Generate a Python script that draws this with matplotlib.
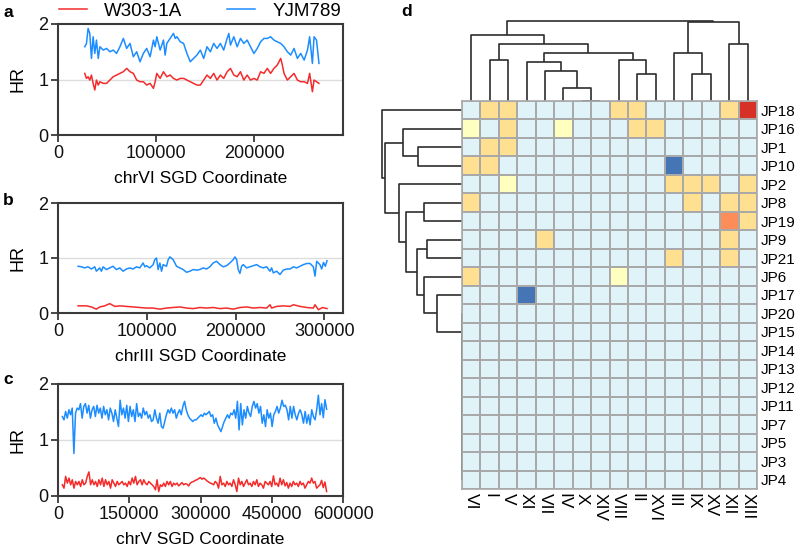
import numpy as np
import matplotlib
matplotlib.use('Agg')
import matplotlib.pyplot as plt
from matplotlib.colors import ListedColormap, BoundaryNorm

plt.rcParams['font.family'] = ['Liberation Sans', 'DejaVu Sans']

# ---------------- data: HR profiles ----------------
series_names = ['W303-1A', 'YJM789']

# panel a : chrVI (positions in kb)
chrVI_blue_kb = [27.3, 29.0, 30.7, 32.4, 34.1, 35.8, 37.5, 39.2, 41.0, 42.7,
                 46.1, 49.5, 52.9, 56.3, 59.7, 63.1, 66.6, 68.3, 70.0,
                 73.4, 76.8, 80.2, 83.6, 87.0, 90.4, 93.9, 97.3, 99.0, 100.7,
                 104.1, 107.5, 109.2, 110.9, 114.3, 117.7, 119.5, 121.2, 124.6, 128.0,
                 131.4, 134.8, 138.2, 141.6, 145.1, 148.5, 151.9, 155.3, 158.7, 162.1,
                 165.5, 168.9, 172.4, 174.1, 175.8, 179.2, 182.6, 186.0, 189.4, 192.8,
                 196.2, 199.7, 203.1, 206.5, 209.9, 213.3, 216.7, 220.1, 223.5, 227.0,
                 230.4, 233.8, 237.2, 240.6, 244.0, 247.4, 250.9, 254.3, 256.5, 259.3,
                 261.0, 263.5, 266.0]
chrVI_blue = [1.59, 1.65, 1.92, 1.83, 1.38, 1.77, 1.47, 1.71, 1.38, 1.59,
              1.53, 1.56, 1.50, 1.53, 1.47, 1.59, 1.74, 1.65, 1.56,
              1.65, 1.41, 1.50, 1.32, 1.47, 1.56, 1.41, 1.71, 1.59, 1.77,
              1.53, 1.71, 1.44, 1.65, 1.74, 1.83, 1.74, 1.77, 1.68, 1.65,
              1.47, 1.32, 1.38, 1.44, 1.53, 1.38, 1.59, 1.50, 1.65, 1.56,
              1.65, 1.53, 1.74, 1.83, 1.62, 1.77, 1.59, 1.74, 1.65, 1.71,
              1.59, 1.47, 1.56, 1.68, 1.74, 1.74, 1.77, 1.71, 1.68, 1.65,
              1.59, 1.50, 1.44, 1.56, 1.38, 1.47, 1.35, 1.53, 1.77, 1.29,
              1.77, 1.71, 1.29]
chrVI_red_kb = [27.3, 29.0, 30.7, 32.4, 34.1, 35.8, 37.5, 39.2, 41.0, 42.7,
                46.1, 49.5, 52.9, 56.3, 59.7, 63.1, 66.6, 70.0, 73.4, 76.8,
                80.2, 83.6, 87.0, 90.4, 93.9, 97.3, 99.0, 100.7, 104.1, 107.5,
                110.9, 114.3, 117.7, 121.2, 124.6, 128.0, 131.4, 134.8, 138.2, 141.6,
                145.1, 148.5, 151.9, 155.3, 158.7, 162.1, 165.5, 168.9, 172.4, 175.8,
                179.2, 182.6, 186.0, 189.4, 192.8, 196.2, 199.7, 203.1, 206.5, 209.9,
                213.3, 216.7, 220.1, 223.5, 227.0, 228.7, 230.4, 233.8, 237.2, 240.6,
                244.0, 247.4, 250.9, 254.3, 256.5, 259.3, 261.0, 263.5, 266.0]
chrVI_red = [1.11, 1.02, 1.05, 0.99, 1.08, 0.93, 0.81, 0.99, 0.90, 0.96,
             0.93, 0.93, 0.99, 1.05, 1.08, 1.11, 1.14, 1.20, 1.14, 1.11,
             0.99, 0.96, 0.96, 0.90, 0.93, 0.84, 0.96, 1.11, 1.02, 1.14,
             1.05, 1.08, 1.02, 0.99, 1.02, 1.02, 0.99, 0.96, 0.93, 0.90,
             0.90, 0.99, 1.08, 1.02, 1.11, 0.99, 1.08, 1.02, 1.14, 1.20,
             1.08, 1.05, 1.14, 0.99, 1.08, 0.99, 1.02, 0.99, 1.14, 1.11,
             1.20, 1.11, 1.20, 1.26, 1.38, 1.26, 1.11, 0.99, 1.05, 1.11,
             0.99, 0.96, 0.96, 0.93, 1.11, 0.78, 0.99, 0.96, 0.93]

# panel b : chrIII
chrIII_blue_kb = [22.6, 26.3, 30.1, 33.8, 37.6, 41.4, 43.2, 47.0, 48.9, 50.8,
                  54.5, 58.3, 62.0, 65.8, 69.6, 73.3, 77.1, 80.8, 84.6, 88.4,
                  92.1, 95.9, 97.8, 99.6, 103.4, 107.2, 109.0, 110.9, 112.8, 114.7,
                  116.6, 118.4, 122.2, 124.1, 126.0, 129.7, 133.5, 137.2, 141.0, 144.8,
                  148.5, 152.3, 156.0, 159.8, 163.6, 167.3, 171.1, 174.8, 178.6, 182.4,
                  186.1, 189.9, 193.6, 197.4, 199.3, 201.2, 203.0, 204.9, 206.8, 208.7,
                  212.4, 216.2, 220.0, 223.7, 227.5, 231.2, 235.0, 238.8, 240.6, 242.5,
                  246.3, 250.0, 253.8, 257.6, 261.3, 265.1, 268.8, 272.6, 276.4, 280.1,
                  283.9, 287.6, 289.5, 291.4, 295.0, 297.0, 299.0, 301.0, 303.0]
chrIII_blue = [0.85, 0.84, 0.82, 0.84, 0.80, 0.84, 0.76, 0.82, 0.76, 0.84,
               0.79, 0.82, 0.85, 0.79, 0.82, 0.76, 0.80, 0.82, 0.80, 0.84,
               0.82, 0.91, 0.84, 0.86, 0.82, 0.88, 0.97, 1.00, 0.79, 0.91,
               0.76, 0.88, 0.85, 0.97, 1.02, 0.97, 0.85, 0.82, 0.79, 0.74,
               0.76, 0.79, 0.78, 0.79, 0.82, 0.80, 0.84, 0.91, 0.94, 0.88,
               0.84, 0.86, 0.91, 0.97, 1.02, 0.97, 0.79, 0.72, 0.85, 0.88,
               0.82, 0.84, 0.86, 0.88, 0.84, 0.82, 0.84, 0.76, 0.82, 0.73,
               0.76, 0.70, 0.78, 0.80, 0.80, 0.84, 0.82, 0.85, 0.88, 0.90,
               0.90, 0.84, 0.67, 0.94, 0.88, 0.80, 0.92, 0.85, 0.95]
chrIII_red_kb = [22.6, 32.0, 37.6, 43.2, 47.0, 52.6, 58.3, 63.9, 69.6, 77.1,
                 84.6, 92.1, 99.6, 107.2, 114.7, 122.2, 129.7, 137.2, 144.8, 152.3,
                 159.8, 167.3, 174.8, 182.4, 189.9, 197.4, 204.9, 212.4, 220.0, 227.5,
                 235.0, 238.8, 240.6, 246.3, 253.8, 261.3, 265.1, 272.6, 280.1, 287.6,
                 289.5, 293.3, 298.0, 303.0]
chrIII_red = [0.13, 0.13, 0.11, 0.07, 0.11, 0.13, 0.17, 0.12, 0.13, 0.12,
              0.11, 0.10, 0.09, 0.09, 0.07, 0.09, 0.10, 0.11, 0.09, 0.08,
              0.10, 0.09, 0.10, 0.08, 0.09, 0.07, 0.10, 0.11, 0.09, 0.10,
              0.09, 0.15, 0.09, 0.12, 0.13, 0.12, 0.15, 0.12, 0.10, 0.09,
              0.15, 0.06, 0.10, 0.08]

# panel c : chrV (evenly spaced windows from first to last position)
chrV_span_kb = [9.1, 565.5]
chrV_blue = [1.42, 1.36, 1.51, 1.39, 1.54, 1.45, 1.57, 0.76, 1.48, 1.57,
             1.54, 1.65, 1.39, 1.60, 1.65, 1.48, 1.62, 1.39, 1.54, 1.60,
             1.42, 1.62, 1.48, 1.57, 1.39, 1.60, 1.45, 1.54, 1.36, 1.57,
             1.48, 1.33, 1.54, 1.39, 1.24, 1.71, 1.45, 1.57, 1.39, 1.62,
             1.33, 1.60, 1.42, 1.54, 1.33, 1.65, 1.42, 1.48, 1.39, 1.57,
             1.45, 1.51, 1.39, 1.45, 1.33, 1.36, 1.54, 1.39, 1.30, 1.48,
             1.24, 1.21, 1.33, 1.45, 1.54, 1.48, 1.57, 1.48, 1.54, 1.39,
             1.48, 1.54, 1.45, 1.60, 1.69, 1.54, 1.45, 1.39, 1.36, 1.33,
             1.36, 1.36, 1.39, 1.42, 1.45, 1.42, 1.48, 1.45, 1.48, 1.51,
             1.42, 1.45, 1.30, 1.39, 1.27, 1.21, 1.15, 1.24, 1.33, 1.39,
             1.45, 1.39, 1.48, 1.45, 1.54, 1.39, 1.69, 1.18, 1.65, 1.27,
             1.54, 1.39, 1.60, 1.48, 1.42, 1.60, 1.69, 1.57, 1.65, 1.48,
             1.60, 1.30, 1.45, 1.24, 1.54, 1.39, 1.48, 1.24, 1.45, 1.51,
             1.60, 1.48, 1.57, 1.71, 1.60, 1.62, 1.54, 1.36, 1.60, 1.39,
             1.60, 1.45, 1.36, 1.48, 1.54, 1.45, 1.30, 1.51, 1.30, 1.45,
             1.27, 1.54, 1.42, 1.36, 1.54, 1.80,
             1.45, 1.65, 1.40, 1.72, 1.55]
chrV_red = [0.20, 0.14, 0.35, 0.23, 0.32, 0.20, 0.29, 0.14, 0.26,
            0.20, 0.26, 0.17, 0.29, 0.20, 0.23, 0.35, 0.43, 0.20, 0.29,
            0.20, 0.26, 0.17, 0.29, 0.20, 0.32, 0.17, 0.29, 0.20, 0.26,
            0.14, 0.29, 0.23, 0.17, 0.26, 0.20, 0.23, 0.26, 0.20, 0.23,
            0.17, 0.26, 0.20, 0.32, 0.23, 0.35, 0.20, 0.26, 0.29, 0.20,
            0.29, 0.23, 0.20, 0.26, 0.23, 0.20, 0.17, 0.11, 0.29, 0.08,
            0.20, 0.17, 0.23, 0.17, 0.26, 0.20, 0.26, 0.17, 0.23, 0.20,
            0.23, 0.18, 0.21, 0.24, 0.20, 0.22, 0.21, 0.18, 0.23, 0.25,
            0.26, 0.28, 0.29, 0.31, 0.33, 0.30, 0.32, 0.30, 0.27, 0.25,
            0.23, 0.22, 0.20, 0.26, 0.23, 0.14, 0.35, 0.20, 0.23, 0.17,
            0.26, 0.20, 0.23, 0.17, 0.29, 0.20, 0.08, 0.32, 0.20, 0.26,
            0.17, 0.23, 0.29, 0.20, 0.23, 0.17, 0.26, 0.20, 0.29, 0.17,
            0.23, 0.20, 0.14, 0.26, 0.23, 0.20, 0.26, 0.17, 0.36, 0.20,
            0.23, 0.17, 0.32, 0.20, 0.29, 0.18, 0.24, 0.14, 0.23, 0.17,
            0.26, 0.20, 0.23, 0.17, 0.26, 0.20, 0.23, 0.14, 0.20, 0.26,
            0.23, 0.32, 0.23, 0.26, 0.14, 0.17,
            0.20, 0.28, 0.15, 0.25, 0.08]

chrVI_ticks = [0, 100000, 200000]
chrIII_ticks = [0, 100000, 200000, 300000]
chrV_ticks = [0, 150000, 300000, 450000, 600000]
x_labels = ['chrVI SGD Coordinate', 'chrIII SGD Coordinate', 'chrV SGD Coordinate']
x_max = [290500, 321000, 600000]

# ---------------- data: heatmap ----------------
col_labels = ['VI', 'I', 'V', 'XI', 'VII', 'IV', 'X', 'XIV', 'VIII', 'II',
              'XVI', 'III', 'IX', 'XV', 'XII', 'XIII']
row_labels = ['JP18', 'JP16', 'JP1', 'JP10', 'JP2', 'JP8', 'JP19', 'JP9', 'JP21',
              'JP6', 'JP17', 'JP20', 'JP15', 'JP14', 'JP13', 'JP12', 'JP11', 'JP7',
              'JP5', 'JP3', 'JP4']
heat_values = [
    [0, 2, 2, 0, 0, 0, 0, 0, 2, 2, 0, 0, 0, 0, 2, 4],
    [1, 0, 2, 0, 0, 1, 0, 0, 0, 2, 2, 0, 0, 0, 0, 0],
    [0, 2, 2, 0, 0, 0, 0, 0, 0, 0, 0, 0, 0, 0, 0, 0],
    [2, 2, 0, 0, 0, 0, 0, 0, 0, 0, 0, -2, 0, 0, 0, 0],
    [0, 0, 1, 0, 0, 0, 0, 0, 0, 0, 0, 2, 2, 2, 0, 2],
    [2, 0, 0, 0, 0, 0, 0, 0, 0, 0, 0, 0, 2, 0, 2, 2],
    [0, 0, 0, 0, 0, 0, 0, 0, 0, 0, 0, 0, 0, 0, 3, 2],
    [0, 0, 0, 0, 2, 0, 0, 0, 0, 0, 0, 0, 0, 0, 2, 0],
    [0, 0, 0, 0, 0, 0, 0, 0, 0, 0, 0, 2, 0, 0, 2, 0],
    [2, 0, 0, 0, 0, 0, 0, 0, 1, 0, 0, 0, 0, 0, 0, 0],
    [0, 0, 0, -2, 0, 0, 0, 0, 0, 0, 0, 0, 0, 0, 0, 0],
] + [[0] * 16 for _ in range(10)]

# dendrogram merges: (child_a, child_b, height); leaves are in display order
col_merges = [(6, 7, 0.0), (1, 2, 40.7), (5, 16, 12.7), (4, 18, 30.0),
              (3, 19, 38.3), (9, 10, 26.7), (8, 21, 40.7), (20, 22, 47.3),
              (17, 23, 56.7), (0, 24, 65.0), (12, 13, 26.7), (11, 26, 47.3),
              (14, 15, 56.7), (27, 28, 78.3), (25, 29, 79.3)]
row_merges = [(19, 20, 0.0), (18, 21, 0.0), (17, 22, 0.0), (16, 23, 0.0),
              (15, 24, 0.0), (14, 25, 0.0), (13, 26, 0.0), (12, 27, 0.0),
              (11, 28, 0.0), (10, 29, 25.3), (9, 30, 37.7), (7, 8, 35.3),
              (32, 31, 45.3), (5, 6, 37.7), (34, 33, 56.3), (4, 35, 63.0),
              (2, 3, 43.7), (1, 37, 59.3), (38, 36, 77.0), (0, 39, 80.3)]

# ---------------- figure ----------------
W, H = 797, 549
fig = plt.figure(figsize=(W / 100, H / 100), dpi=100)


def px_axes(l, t, r, b, **kw):
    return fig.add_axes([l / W, 1 - b / H, (r - l) / W, (b - t) / H], **kw)


RED = '#f52b2b'
BLUE = '#1c8dff'
SP = '#3a3a3a'

panel_specs = [
    (24, 135, np.array(chrVI_red_kb) * 1000, chrVI_red, np.array(chrVI_blue_kb) * 1000, chrVI_blue, chrVI_ticks),
    (203, 313, np.array(chrIII_red_kb) * 1000, chrIII_red, np.array(chrIII_blue_kb) * 1000, chrIII_blue, chrIII_ticks),
    (384, 496, np.linspace(chrV_span_kb[0], chrV_span_kb[1], len(chrV_red)) * 1000, chrV_red,
     np.linspace(chrV_span_kb[0], chrV_span_kb[1], len(chrV_blue)) * 1000, chrV_blue, chrV_ticks),
]
line_axes = []
for i, (top, bot, rx, ry, bx, by, ticks) in enumerate(panel_specs):
    ax = px_axes(58, top, 343, bot)
    ax.axhline(1, color='#dddddd', lw=1.0, zorder=0)
    lr, = ax.plot(rx, ry, color=RED, lw=1.1, label=series_names[0])
    lb, = ax.plot(bx, by, color=BLUE, lw=1.1, label=series_names[1])
    ax.set_xlim(0, x_max[i])
    ax.set_ylim(0, 2)
    ax.set_xticks(ticks)
    ax.set_xticklabels([str(t) for t in ticks])
    ax.set_yticks([0, 1, 2])
    ax.tick_params(direction='out', length=5, width=1.3, color=SP, labelsize=13,
                   pad=2, labelcolor='#111111')
    for s in ax.spines.values():
        s.set_color(SP)
        s.set_linewidth(1.5)
    ax.set_ylabel('HR', fontsize=13)
    ax.yaxis.set_label_coords(-0.112, 0.5)
    ax.set_xlabel(x_labels[i], fontsize=12.5, labelpad=7)
    line_axes.append((lr, lb))

fig.legend(handles=list(line_axes[0]), loc='center left',
           bbox_to_anchor=(59 / W, 1 - 11 / H), ncol=2, frameon=False,
           fontsize=13.5, borderpad=0, borderaxespad=0, handlelength=1.5,
           handletextpad=0.9, columnspacing=2.4)

for lab, xx, yy in [('a', 3, 17), ('b', 3, 205), ('c', 3, 384), ('d', 401, 16)]:
    fig.text(xx / W, 1 - yy / H, lab, fontsize=12.5, fontweight='bold', va='baseline')

# heatmap
cmap = ListedColormap(['#4575b4', '#91bfdb', '#e0f3f8', '#ffffbf', '#fee090', '#fc8d59', '#d73027'])
norm = BoundaryNorm(np.arange(-2.5, 5.0, 1.0), cmap.N)
M = np.array(heat_values)
nr, nc = M.shape
axh = px_axes(462, 101, 757, 489, zorder=2)
axh.pcolormesh(np.arange(nc + 1) - 0.5, np.arange(nr + 1) - 0.5, M, cmap=cmap, norm=norm,
               edgecolors='#a9a9a9', linewidth=1.2)
axh.set_xlim(-0.5, nc - 0.5)
axh.set_ylim(nr - 0.5, -0.5)
axh.set_xticks(range(nc))
axh.set_xticklabels(col_labels, rotation=270, fontsize=12.5)
axh.yaxis.tick_right()
axh.set_yticks(range(nr))
axh.set_yticklabels(row_labels, fontsize=11)
axh.tick_params(axis='y', length=0, pad=3)
axh.tick_params(axis='x', length=0, pad=3)
for s in axh.spines.values():
    s.set_color('#a9a9a9')
    s.set_linewidth(1.2)


def dendro_segments(n_leaves, merges):
    pos = {i: float(i) for i in range(n_leaves)}
    hgt = {i: 0.0 for i in range(n_leaves)}
    segs = []
    for k, (a, b, h) in enumerate(merges):
        segs.append(([pos[a], pos[a], pos[b], pos[b]], [hgt[a], h, h, hgt[b]]))
        node = n_leaves + k
        pos[node] = (pos[a] + pos[b]) / 2.0
        hgt[node] = h
    return segs


DC = '#2e2e2e'
axt = px_axes(462, 20, 757, 101, zorder=1)
for xs, ys in dendro_segments(nc, col_merges):
    axt.plot(xs, ys, color=DC, lw=1.2, clip_on=False, solid_capstyle='butt')
axt.set_xlim(-0.5, nc - 0.5)
axt.set_ylim(0, 80)
axt.axis('off')

axl = px_axes(381, 101, 462, 489, zorder=1)
for xs, ys in dendro_segments(nr, row_merges):
    axl.plot(ys, xs, color=DC, lw=1.2, clip_on=False, solid_capstyle='butt')
axl.set_ylim(nr - 0.5, -0.5)
axl.set_xlim(81, 0)
axl.axis('off')

fig.savefig('out.png', dpi=100)
